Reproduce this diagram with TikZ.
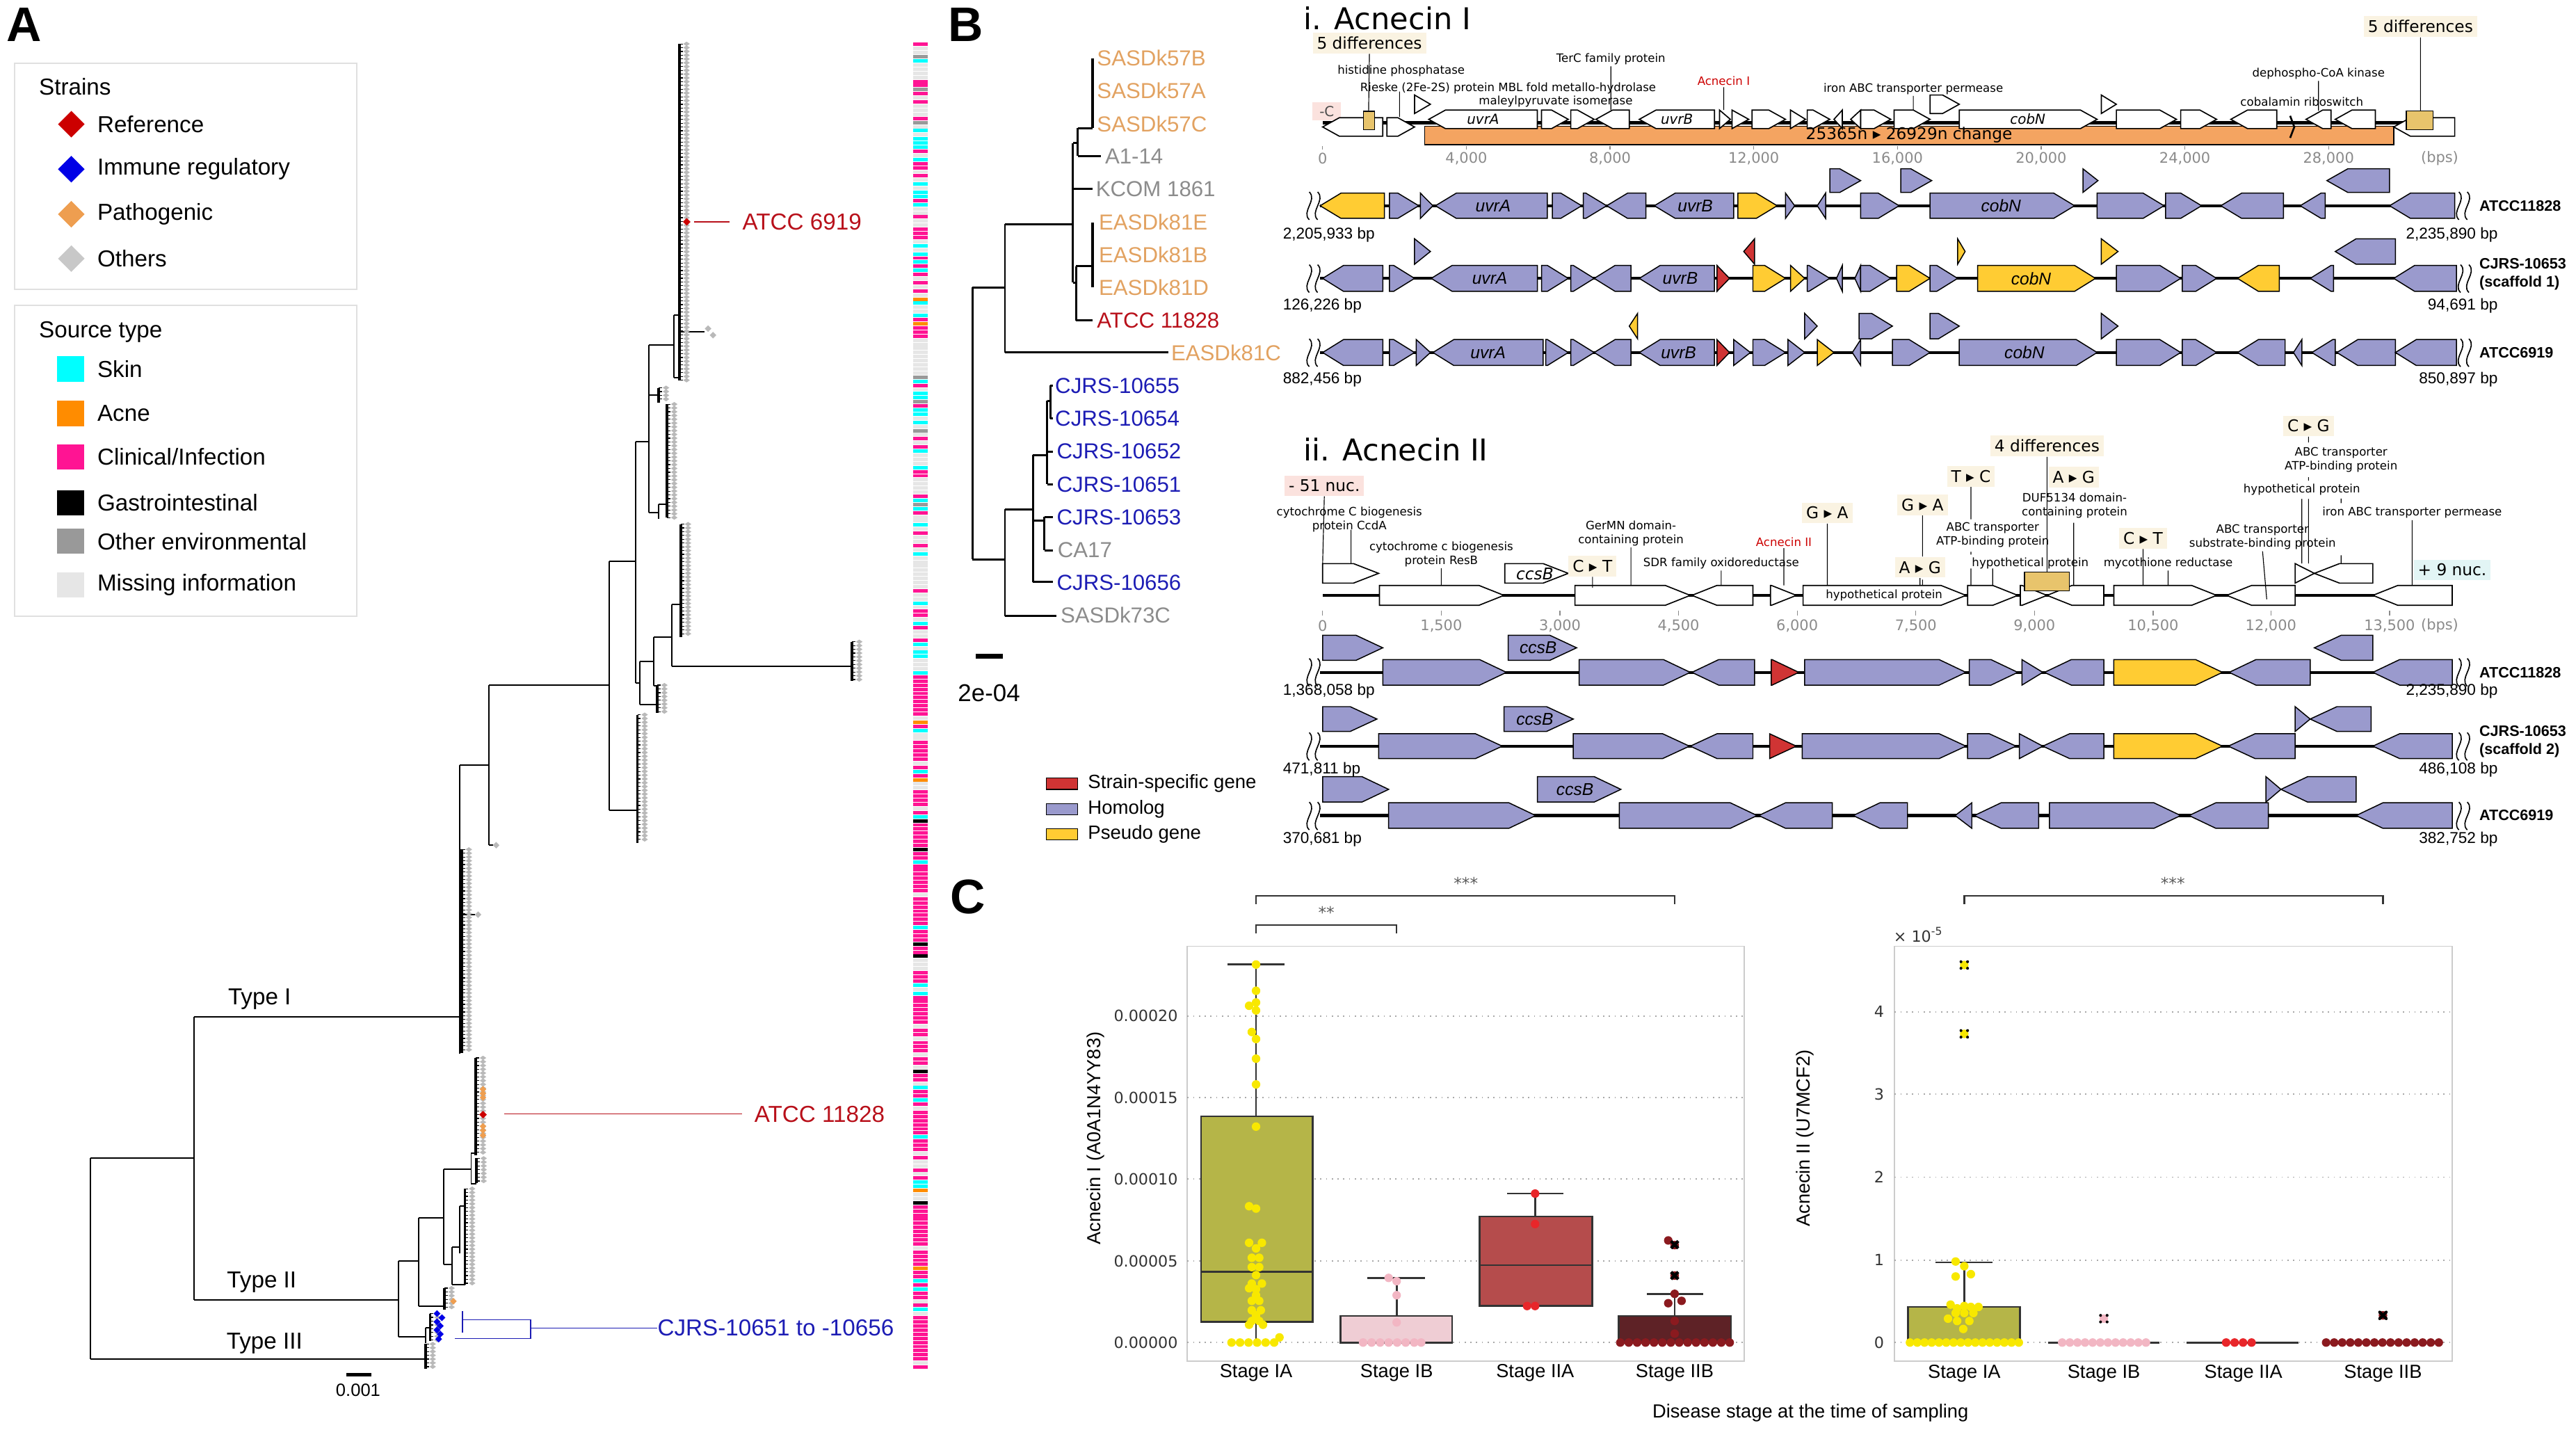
\documentclass[tikz,border=0pt]{standalone}
\usepackage{fontspec}
\setmainfont{Liberation Sans}
\newfontfamily\dv{DejaVu Sans}
\usetikzlibrary{shapes.geometric,positioning}

\definecolor{homc}{HTML}{9A9ACD}
\definecolor{psec}{HTML}{FFCC33}
\definecolor{sspc}{HTML}{D03434}
\definecolor{tanc}{HTML}{E8C46C}
\definecolor{bandc}{HTML}{F4A461}
\definecolor{creamc}{HTML}{FAF3E2}
\definecolor{pinkboxc}{HTML}{FBE2DE}
\definecolor{cyanboxc}{HTML}{E2F5F5}
\definecolor{refdia}{HTML}{CC0000}
\definecolor{immdia}{HTML}{0000E6}
\definecolor{pathdia}{HTML}{EE9E50}
\definecolor{othdia}{HTML}{C8C8C8}
\definecolor{reftxt}{HTML}{B8101A}
\definecolor{immtxt}{HTML}{1C1CB4}
\definecolor{pathtxt}{HTML}{E2A261}
\definecolor{othtxt}{HTML}{8C8C8C}
\definecolor{skinc}{HTML}{00FFFF}
\definecolor{acnec}{HTML}{FF8C00}
\definecolor{clinc}{HTML}{FF1493}
\definecolor{envc}{HTML}{999999}
\definecolor{missc}{HTML}{E6E6E6}
\definecolor{leafc}{HTML}{B9B9B9}
\definecolor{axisgrey}{HTML}{8A8A8A}
\definecolor{iabox}{HTML}{B5B548}
\definecolor{ibbox}{HTML}{EFCDD4}
\definecolor{iiabox}{HTML}{B54C4C}
\definecolor{iibbox}{HTML}{5E2226}
\definecolor{iadot}{HTML}{F8E800}
\definecolor{ibdot}{HTML}{F2B6C3}
\definecolor{iiadot}{HTML}{E8262A}
\definecolor{iibdot}{HTML}{8B1A1F}
\definecolor{framec}{HTML}{CCCCCC}
\definecolor{gridc}{HTML}{A8A8A8}
\definecolor{boxline}{HTML}{333333}

\newcommand{\fsz}[2][1.2]{\fontsize{#2}{\fpeval{#1*#2}}\selectfont}

% genes: \gR / \gL [style]{from}{to}, row set by \gy, \gh, \ghd
\newcommand{\gR}[3][hom]{\pgfmathsetmacro\gtip{min(\ghd,#3-#2)}%
  \filldraw[#1] (#2,{\gy-\gh}) -- ({#3-\gtip},{\gy-\gh}) -- (#3,\gy) -- ({#3-\gtip},{\gy+\gh}) -- (#2,{\gy+\gh}) -- cycle;}
\newcommand{\gL}[3][hom]{\pgfmathsetmacro\gtip{min(\ghd,#3-#2)}%
  \filldraw[#1] (#3,{\gy-\gh}) -- ({#2+\gtip},{\gy-\gh}) -- (#2,\gy) -- ({#2+\gtip},{\gy+\gh}) -- (#3,{\gy+\gh}) -- cycle;}
\newcommand{\brkmark}[3]{%
  \draw[line width=0.5pt] (#1,#2) .. controls ({#1+10},{(#2+#3)/2-25}) and ({#1-10},{(#2+#3)/2+25}) .. (#1,#3);}
% tree leaves
\newcommand{\leafs}[3]{%
  \draw[line width=1.1pt] (#1,#2) -- (#1,#3);
  \pgfmathtruncatemacro\nleaf{(#3-#2)/2.3}
  \foreach \k in {0,...,\nleaf}{
    \pgfmathsetmacro\ly{#2+2.3*\k}
    \draw[line width=0.35pt] (#1,\ly) -- ({#1+2},\ly);
    \fill[leafc] ({#1+4.4},\ly) +(-2,0) -- +(0,-1.35) -- +(2,0) -- +(0,1.35) -- cycle;
  }}
\newcommand{\dmd}[4][2]{\fill[#2] (#3,#4) +(-#1,0) -- +(0,-#1) -- +(#1,0) -- +(0,#1) -- cycle;}

\tikzset{
  treeline/.style={line width=0.6pt},
  btree/.style={line width=0.9pt},
  refgene/.style={fill=white, draw=black, line width=0.5pt},
  hom/.style={fill=homc, draw=black, line width=0.45pt},
  pse/.style={fill=psec, draw=black, line width=0.45pt},
  ssp/.style={fill=sspc, draw=black, line width=0.45pt},
  backbone/.style={line width=1.3pt},
  leader/.style={line width=0.35pt},
  difbox/.style={fill=creamc, inner sep=1.8pt, font={\dv\fsz{7}}},
  glab/.style={font={\dv\fsz{5}}, align=center, inner sep=0.5pt},
  gital/.style={font={\dv\itshape\fsz{6}}, inner sep=0pt},
  cital/.style={font={\itshape\fsz{7.4}}, inner sep=0pt},
  tlab/.style={font={\bfseries\fsz{6.5}}, anchor=west, align=left, inner sep=0pt},
  bplab/.style={font={\fsz{6.8}}, inner sep=0pt},
  axlab/.style={font={\dv\fsz{6.3}}, text=axisgrey, inner sep=0pt},
  panlab/.style={font={\bfseries\fsz{21}}, inner sep=0pt},
  legtxt/.style={font={\fsz{10}}, anchor=west, inner sep=0pt},
  ldiam/.style={diamond, minimum width=0.41cm, minimum height=0.41cm, inner sep=0pt},
  lsq/.style={rectangle, minimum width=0.415cm, minimum height=0.385cm, inner sep=0pt},
  legframe/.style={draw=black!12, line width=0.6pt},
  zg/.style={x=0.0127175cm, y=-0.0035275cm},
  zca/.style={x=0.0081cm, y=-0.007125cm},
  zcb/.style={x=0.0077225cm, y=-0.007125cm},
  ticklab/.style={font={\dv\fsz{6.7}}, text=boxline, inner sep=0pt},
  catlab/.style={font={\fsz{8.2}}, inner sep=0pt},
  sigline/.style={line width=0.7pt, draw=boxline},
  boxst/.style={draw=boxline, line width=0.8pt},
}

\begin{document}
\begin{tikzpicture}[x=0.025cm,y=-0.025cm]
\useasboundingbox (0,0) rectangle (1568,870);

%%%%%%%%%%%% A
\node[panlab] (labA) at (14.5,15) {A};

% legend: strains
\draw[legframe] (9,38.6) rectangle (217,176);
\node[legtxt] (strT) at (23.5,52.7) {Strains};
\foreach \c/\t/\yy [count=\i] in {refdia/Reference/75.6, immdia/Immune regulatory/103, pathdia/Pathogenic/130.4, othdia/Others/157.4}{
  \node[ldiam, fill=\c] (sd\i) at (43.4,\yy) {};
  \node[legtxt] (st\i) at (59,\yy) {\t};
}
% legend: source type
\draw[legframe] (9,186) rectangle (217,375);
\node[legtxt] (srcT) at (23.5,202) {Source type};
\foreach \c/\t/\yy [count=\i] in {skinc/Skin/224.6, acnec/Acne/251.6, clinc/Clinical\slash Infection/278, black/Gastrointestinal/306, envc/Other environmental/329.4, missc/Missing information/356}{
  \node[lsq, fill=\c] (ss\i) at (43.1,\yy) {};
  \node[legtxt] (sx\i) at (59,\yy) {\t};
}

% tree
\draw[treeline] (55,704.7) -- (55,827)
  (55,704.7) -- (118,704.7) (118,619) -- (118,791)
  (118,619) -- (280,619) (118,791) -- (242.7,791) (55,827) -- (259,827)
  (280,465.7) -- (280,641.5) (280,465.7) -- (297.8,465.7)
  (297.8,417) -- (297.8,514.4) (297.8,514.4) -- (300,514.4)
  (280,556.7) -- (289.3,556.7)
  (297.8,417) -- (371,417) (371,341.6) -- (371,493) (371,493) -- (388,493)
  (371,341.6) -- (387,341.6) (387,268.8) -- (387,415.8)
  (387,268.8) -- (395,268.8) (395,210) -- (395,311.9)
  (395,210) -- (410,210) (410,191.6) -- (410,230) (410,191.6) -- (413.5,191.6) (410,230) -- (413.5,230)
  (413.5,202) -- (429,202)
  (395,240.6) -- (401,240.6)
  (395,311.9) -- (400.7,311.9) (400.7,307) -- (400.7,316) (400.7,307) -- (406,307)
  (387,415.8) -- (389.5,415.8) (389.5,402.5) -- (389.5,429)
  (389.5,402.5) -- (398,402.5) (398,387.6) -- (398,417.3)
  (398,387.6) -- (409,387.6) (409,368) -- (409,405.4)
  (409,368) -- (414.4,368) (409,405.4) -- (518.6,405.4)
  (398,417.3) -- (400,417.3) (389.5,429) -- (400,429)
  (242.7,767.5) -- (242.7,813.8) (242.7,813.8) -- (259,813.8) (259,808) -- (259,817.4)
  (259,808) -- (261.8,808)
  (242.7,767.5) -- (254.7,767.5) (254.7,741.3) -- (254.7,794.8)
  (254.7,794.8) -- (270.5,794.8)
  (254.7,741.3) -- (270,741.3) (270,711.6) -- (270,769.8)
  (270,711.6) -- (286.8,711.6) (286.8,702) -- (286.8,720.4)
  (286.8,702) -- (289.6,702) (286.8,720.4) -- (290,720.4)
  (270,769.8) -- (275.2,769.8) (275.2,759) -- (275.2,781.7)
  (275.2,759) -- (280,759) (280,734) -- (280,762.7) (280,734) -- (283,734) (275.2,781.7) -- (283,781.7);
\leafs{281}{517}{641}
\leafs{413.5}{26.7}{231.7}
\leafs{401}{236}{245}
\leafs{406}{246}{315}
\leafs{388}{435}{513}
\leafs{414.4}{319}{387.6}
\leafs{518.6}{390.6}{414.3}
\leafs{400}{417}{434}
\leafs{289.6}{643.9}{703.3}
\leafs{290}{705}{720}
\leafs{283}{723.5}{781.7}
\leafs{270.5}{784}{797}
\leafs{261.8}{799.5}{816}
\leafs{259}{818}{833}
\dmd{leafc}{302}{514.4} \dmd{leafc}{291}{556.7} \dmd{leafc}{431}{200} \dmd{leafc}{434}{204}
\foreach \yy in {663,665.5,668,685.5,688,691}{\dmd{pathdia}{294}{\yy}}
\dmd{pathdia}{276}{792}
\dmd[2.3]{refdia}{294}{678.4}
\foreach \xx/\yy in {266/799.5,269/802,266/804.5,268/807,266/809.5,268/812,267/815}{\dmd[2.1]{immdia}{\xx}{\yy}}
\dmd[2.3]{refdia}{418}{135}

% highlighted strains
\node[anchor=west, font=\fsz{10}, text=reftxt, inner sep=0pt] (a6919) at (451.7,135) {ATCC 6919};
\draw[reftxt, line width=0.5pt] (422.4,135) -- (444.2,135);
\node[anchor=west, font=\fsz{10}, text=reftxt, inner sep=0pt] (a11828) at (459,678) {ATCC 11828};
\draw[reftxt, line width=0.5pt] (307,678) -- (451.8,678);
\node[anchor=west, font=\fsz{10}, text=immtxt, inner sep=0pt] (acjrs) at (400,808.3) {CJRS-10651 to -10656};
\draw[immtxt, line width=0.5pt] (281.6,798) -- (281.6,811) (281.6,803.3) -- (323,803.3) -- (323,814.7) -- (277,814.7)
  (323,808.3) -- (acjrs.west);

% clade labels
\node[font=\fsz{10}, inner sep=0pt] (typeI) at (158,608) {Type I};
\node[font=\fsz{10}, inner sep=0pt] (typeII) at (159.3,780.5) {Type II};
\node[font=\fsz{10}, inner sep=0pt] (typeIII) at (161,817.6) {Type III};

% scale bar
\draw[line width=1.6pt] (211,836.7) -- (226,836.7);
\node[font=\fsz{7.7}, inner sep=0pt] (sbA) at (218,846) {0.001};

% source strip
\pgfmathsetseed{12}
\foreach \i in {0,...,322}{
  \pgfmathtruncatemacro\rr{random(1,100)}
  \pgfmathsetmacro\stripy{26+2.5*\i}
  \ifnum\i<157
    \ifnum\rr<46 \def\stripc{missc}\else\ifnum\rr<75 \def\stripc{clinc}\else\ifnum\rr<92 \def\stripc{skinc}\else\ifnum\rr<95 \def\stripc{black}\else\ifnum\rr<98 \def\stripc{acnec}\else\def\stripc{envc}\fi\fi\fi\fi\fi
  \else
    \ifnum\rr<69 \def\stripc{clinc}\else\ifnum\rr<84 \def\stripc{missc}\else\ifnum\rr<95 \def\stripc{skinc}\else\ifnum\rr<98 \def\stripc{black}\else\def\stripc{acnec}\fi\fi\fi\fi
  \fi
  \fill[\stripc] (555.7,\stripy) rectangle (564.7,\stripy+2.1);
}

%%%%%%%%%%%% B tree
\node[panlab] (labB) at (587.8,15) {B};
\foreach \lx/\lab/\col [count=\i from 0] in {667.5/SASDk57B/pathtxt, 667.5/SASDk57A/pathtxt, 667.5/SASDk57C/pathtxt, 672.4/A1-14/othtxt, 666.8/KCOM 1861/othtxt, 668.6/EASDk81E/pathtxt, 668.6/EASDk81B/pathtxt, 668.6/EASDk81D/pathtxt, 667.5/ATCC 11828/reftxt, 712.6/EASDk81C/pathtxt, 642/CJRS-10655/immtxt, 642/CJRS-10654/immtxt, 643/CJRS-10652/immtxt, 643/CJRS-10651/immtxt, 643/CJRS-10653/immtxt, 643.5/CA17/othtxt, 643/CJRS-10656/immtxt, 645.3/SASDk73C/othtxt}{
  \node[anchor=west, font=\fsz{9.4}, text=\col, inner sep=0pt] (bt\i) at (\lx,{35.4+19.95*\i}) {\lab};
}
\draw[btree] (592,175) -- (592,340.5)
  (592,175) -- (611.7,175) (611.7,136.5) -- (611.7,214.5) (611.7,214.5) -- (711,214.5)
  (611.7,136.5) -- (653,136.5) (653,87) -- (653,172)
  (653,87) -- (656,87) (656,78) -- (656,95) (656,78) -- (665,78) (656,95) -- (670,95)
  (653,115) -- (665,115)
  (653,172) -- (655,172) (655,162) -- (655,195) (655,162) -- (665,162) (655,195) -- (665,195)
  (592,340.5) -- (611.7,340.5) (611.7,310) -- (611.7,375) (611.7,375) -- (643,375)
  (611.7,310) -- (628.7,310) (628.7,277) -- (628.7,354.3) (628.7,354.3) -- (641,354.3)
  (628.7,317) -- (635.7,317) (635.7,314.7) -- (635.7,335) (635.7,314.7) -- (641,314.7) (635.7,335) -- (641,335)
  (628.7,277) -- (637.4,277) (637.4,244) -- (637.4,294.8) (637.4,274.9) -- (641,274.9) (637.4,294.8) -- (641,294.8)
  (637.4,244) -- (639.3,244) (639.3,234.7) -- (639.3,254.7) (639.3,234.7) -- (641,234.7) (639.3,254.7) -- (641,254.7);
\draw[line width=1.4pt] (665,35.4) -- (665,78) (665,135.5) -- (665,175);
\draw[line width=2pt] (594,399.4) -- (610.4,399.4);
\node[font=\fsz{10.5}, inner sep=0pt] (sbB) at (602,422) {2e-04};

%%%%%%%%%%%% B: Acnecin I reference
\begin{scope}[shift={(770.5,0)},zg]
\node[anchor=west, font={\dv\fsz{13}}, inner sep=0pt] (ttlI) at (45,78) {i. Acnecin I};
\draw[backbone] (68,530) -- (1423,530);
\filldraw[fill=bandc, draw=black, line width=0.5pt] (190,545) rectangle (1350,625);
\fill[pinkboxc] (56,440) rectangle (90,520);
\def\gh{40}\def\ghd{20}
\def\gy{548}
\gL[refgene]{68}{140}\gR[refgene]{145}{178}\gL[refgene]{1350}{1423}
\def\gy{515}
\gL[refgene]{195}{325}\gR[refgene]{330}{362}\gR[refgene]{365}{393}\gL[refgene]{395}{435}
\gL[refgene]{447}{537}\gR[refgene]{543}{556}\gR[refgene]{558}{578}\gR[refgene]{582}{622}
\gR[refgene]{628}{646}\gR[refgene]{648}{675}\gL[refgene]{680}{690}\gL[refgene]{700}{712}
\gR[refgene]{712}{748}\gR[refgene]{752}{795}\gR[refgene]{830}{995}\gR[refgene]{1018}{1090}
\gR[refgene]{1095}{1138}\gL[refgene]{1155}{1210}\gL[refgene]{1245}{1275}\gL[refgene]{1280}{1328}
\def\gy{450}
\gR[refgene]{178}{197}\gR[refgene]{795}{830}\gR[refgene]{1000}{1018}
\filldraw[fill=tanc, draw=black, line width=0.4pt] (117,480) rectangle (130,560) (1365,478) rectangle (1397,560);
\draw[line width=0.8pt] (1226,500) -- (1231,548) -- (1226,595);
\node[font={\dv\fsz{6}}, text=black!70, inner sep=0pt] (minusC) at (73,480) {-C};
\node[gital] (uA1) at (260,515) {uvrA};
\node[gital] (uB1) at (492,515) {uvrB};
\node[gital] (cN1) at (912,515) {cobN};
\node[font={\dv\fsz{7}}, inner sep=0pt] (chgI) at (770,583) {25365n ▸ 26929n change};
% labels
\node[difbox] (dif1) at (124,185) {5 differences};
\node[difbox] (dif2) at (1382,115) {5 differences};
\node[glab] (lhis) at (162,307) {histidine phosphatase};
\node[glab] (lrie) at (290,380) {Rieske (2Fe-2S) protein MBL fold metallo-hydrolase};
\node[glab] (lmal) at (347,437) {maleylpyruvate isomerase};
\node[glab] (lter) at (413,255) {TerC family protein};
\node[glab, text=red!80!black] (lacI) at (548,350) {Acnecin I};
\node[glab] (liro) at (775,383) {iron ABC transporter permease};
\node[glab] (ldep) at (1260,318) {dephospho-CoA kinase};
\node[glab] (lcob) at (1240,440) {cobalamin riboswitch};
\draw[leader] (dif1.south) -- (123,480) (160,395) -- (160,505) (lter.south) -- (413,475)
  (lacI.south) -- (548,475) (liro.south) -- (775,475) (ldep.south) -- (1260,478) (dif2.south) -- (1382,478);
% axis
\foreach \tx/\tl in {68/0, 240/{4,000}, 412/{8,000}, 584/{12,000}, 756/{16,000}, 928/{20,000}, 1100/{24,000}, 1272/{28,000}}{
  \draw[axisgrey, line width=0.4pt] (\tx,630) -- (\tx,645);
  \node[axlab] (axI\tx) at (\tx,683) {\tl};
}
\node[axlab] (bpsI) at (1405,683) {(bps)};
\end{scope}

%%%%%%%%%%%% B: Acnecin I comparisons
\begin{scope}[shift={(770.5,101.6)},zg]
\def\ghd{25}
% ATCC11828
\draw[backbone] (65,167.5) -- (1423,167.5);
\def\gy{167.5}\def\gh{54.5}
\gL[pse]{65}{142}\gR{148}{183}\gR{185}{200}\gL{203}{337}\gR{343}{378}\gR{380}{408}\gL{408}{455}
\gL{465}{560}\gR[pse]{565}{612}\gR{622}{633}\gL{660}{670}\gR{712}{758}\gR{795}{968}\gR{995}{1075}
\gR{1077}{1120}\gL{1143}{1218}\gL{1238}{1268}\gL{1345}{1423}
\def\gy{59}\def\gh{51}
\gR{675}{712}\gR{760}{797}\gR{978}{996}\gL{1270}{1345}
\node[cital] (uA2) at (272,167.5) {uvrA};
\node[cital] (uB2) at (514,167.5) {uvrB};
\node[cital] (cN2) at (880,167.5) {cobN};
\brkmark{52}{108}{228}\brkmark{62}{108}{228}\brkmark{1428}{108}{228}\brkmark{1438}{108}{228}
\node[tlab] (trI1) at (1452,167.5) {ATCC11828};
\node[bplab, anchor=west] (bpI1a) at (20,292) {2,205,933 bp};
\node[bplab, anchor=east] (bpI1b) at (1475,292) {2,235,890 bp};
% CJRS-10653 scaffold 1
\draw[backbone] (65,481) -- (1425,481);
\def\gy{481}\def\gh{56}
\gL{68}{140}\gR{148}{178}\gL{198}{325}\gR{330}{362}\gR{365}{393}\gL{393}{437}\gL{447}{537}
\gR[ssp]{540}{555}\gR[pse]{583}{622}\gR[pse]{628}{645}\gR{648}{675}\gL{683}{690}\gL{705}{712}
\gR{712}{748}\gR[pse]{755}{795}\gR{795}{828}\gR[pse]{852}{993}\gR{1018}{1095}\gR{1097}{1138}
\gL[pse]{1163}{1213}\gL{1250}{1278}\gL{1350}{1425}
\def\gy{365}\def\gh{55}
\gR{178}{197}\gL[ssp]{572}{585}\gR[pse]{828}{837}\gR[pse]{1000}{1020}\gL{1280}{1352}
\node[cital] (uA3) at (268,481) {uvrA};
\node[cital] (uB3) at (496,481) {uvrB};
\node[cital] (cN3) at (916,481) {cobN};
\brkmark{52}{422}{542}\brkmark{62}{422}{542}\brkmark{1430}{422}{542}\brkmark{1440}{422}{542}
\node[tlab] (trI2) at (1452,462) {CJRS-10653\\(scaffold 1)};
\node[bplab, anchor=west] (bpI2a) at (20,600) {126,226 bp};
\node[bplab, anchor=east] (bpI2b) at (1475,600) {94,691 bp};
% ATCC6919
\draw[backbone] (65,801) -- (1425,801);
\def\gy{801}\def\gh{56}
\gL{68}{140}\gR{148}{178}\gR{180}{197}\gL{200}{332}\gR{335}{362}\gR{365}{393}\gL{393}{437}
\gL{447}{537}\gR[ssp]{540}{555}\gR{560}{580}\gR{583}{622}\gR{625}{645}\gR[pse]{660}{680}
\gL{702}{712}\gR{750}{795}\gR{830}{995}\gR{1018}{1095}\gR{1097}{1138}\gL{1163}{1220}
\gL{1230}{1240}\gL{1252}{1280}\gL{1282}{1352}\gL{1352}{1425}
\def\gy{687}\def\gh{55}
\gL[pse]{435}{445}\gR{645}{660}\gR{710}{750}\gR{795}{830}\gR{1000}{1020}
\node[cital] (uA4) at (266,801) {uvrA};
\node[cital] (uB4) at (494,801) {uvrB};
\node[cital] (cN4) at (908,801) {cobN};
\brkmark{52}{742}{862}\brkmark{62}{742}{862}\brkmark{1430}{742}{862}\brkmark{1440}{742}{862}
\node[tlab] (trI3) at (1452,801) {ATCC6919};
\node[bplab, anchor=west] (bpI3a) at (20,917) {882,456 bp};
\node[bplab, anchor=east] (bpI3b) at (1475,917) {850,897 bp};
\end{scope}

%%%%%%%%%%%% B: Acnecin II reference
\begin{scope}[shift={(770.5,245.6)},zg]
\node[anchor=west, font={\dv\fsz{13}}, inner sep=0pt] (ttlII) at (45,198) {ii. Acnecin II};
\draw[backbone] (68,828) -- (1420,828);
\def\ghd{30}\def\gy{828}\def\gh{43}
\gR[refgene]{136}{285}\gR[refgene]{370}{508}\gL[refgene]{510}{583}\gR[refgene]{604}{635}
\gR[refgene]{643}{838}\gR[refgene]{840}{900}\gR[refgene]{903}{935}\gL[refgene]{935}{1003}
\gR[refgene]{1015}{1138}\gL[refgene]{1150}{1232}\gL[refgene]{1325}{1420}
\def\gy{733}\def\gh{42}
\gR[refgene]{68}{135}\gR[refgene]{286}{362}\gR[refgene]{1232}{1255}\gL[refgene]{1255}{1325}
\filldraw[fill=tanc, draw=black, line width=0.4pt] (908,728) rectangle (962,808);
\node[gital, font={\dv\itshape\fsz{7}}] (ccs0) at (322,737) {ccsB};
\node[glab] (lhyp1) at (740,828) {hypothetical protein};
% labels
\node[difbox, fill=pinkboxc] (nuc51) at (70,355) {- 51 nuc.};
\node[difbox, fill=cyanboxc] (nuc9) at (1420,718) {+ 9 nuc.};
\node[difbox] (dif4) at (935,183) {4 differences};
\node[difbox] (sCT1) at (391,702) {C ▸ T};
\node[difbox] (sGA1) at (672,472) {G ▸ A};
\node[difbox] (sGA2) at (786,437) {G ▸ A};
\node[difbox] (sAG1) at (783,707) {A ▸ G};
\node[difbox] (sTC1) at (844,314) {T ▸ C};
\node[difbox] (sAG2) at (967,317) {A ▸ G};
\node[difbox] (sCT2) at (1050,582) {C ▸ T};
\node[difbox] (sCG1) at (1248,97) {C ▸ G};
\node[glab] (lccdA) at (100,500) {cytochrome C biogenesis\\protein CcdA};
\node[glab] (lresB) at (210,650) {cytochrome c biogenesis\\protein ResB};
\node[glab] (lger) at (437,560) {GerMN domain-\\containing protein};
\node[glab] (lsdr) at (545,690) {SDR family oxidoreductase};
\node[glab, text=red!80!black] (lacII) at (620,598) {Acnecin II};
\node[glab] (labc1) at (870,568) {ABC transporter\\ATP-binding protein};
\node[glab] (lhyp2) at (915,690) {hypothetical protein};
\node[glab] (lduf) at (968,440) {DUF5134 domain-\\containing protein};
\node[glab] (lmyc) at (1080,690) {mycothione reductase};
\node[glab] (labc2) at (1193,577) {ABC transporter\\substrate-binding protein};
\node[glab] (labc3) at (1287,242) {ABC transporter\\ATP-binding protein};
\node[glab] (lhyp3) at (1240,370) {hypothetical protein};
\node[glab] (liro2) at (1372,472) {iron ABC transporter permease};
\draw[leader] (nuc51.south) -- (68,690) (102,545) -- (102,690) (lresB.south) -- (210,785)
  (sCT1.south) -- (391,795) (lger.south) -- (437,785) (lsdr.south) -- (545,785)
  (lacII.south) -- (620,785) (sGA1.south) -- (672,785) (sGA2.south) -- (786,660) (sAG1.south) -- (783,785) (786,760) -- (786,785)
  (sTC1.south) -- (844,500) (844,640) -- (844,652) (844,712) -- (844,785) (870,712) -- (870,785)
  (dif4.south) -- (935,728) (967,515) -- (967,785) (sCT2.south) -- (1050,785)
  (lmyc.south) -- (1080,785) (labc2.south) -- (1198,845) (sCG1.south) -- (1248,168)
  (1248,318) -- (1248,332) (1240,412) -- (1240,690) (1248,412) -- (1248,690)
  (1287,410) -- (1287,430) (1287,655) -- (1287,690) (liro2.south) -- (1372,785);
% axis
\foreach \tx/\tl in {68/0, 210/{1,500}, 352/{3,000}, 494/{4,500}, 636/{6,000}, 778/{7,500}, 920/{9,000}, 1062/{10,500}, 1203/{12,000}, 1345/{13,500}}{
  \draw[axisgrey, line width=0.4pt] (\tx,895) -- (\tx,915);
  \node[axlab] (axII\tx) at (\tx,960) {\tl};
}
\node[axlab] (bpsII) at (1405,960) {(bps)};
\end{scope}

%%%%%%%%%%%% B: Acnecin II comparisons
\begin{scope}[shift={(770.5,406.4)},zg]
\def\ghd{32}
% ATCC11828
\draw[backbone] (65,20) -- (1420,20);
\def\gy{20}\def\gh{55}
\gR{140}{288}\gR{375}{508}\gL{510}{585}\gR[ssp]{605}{638}\gR{645}{838}\gR{842}{900}\gR{905}{930}
\gL{932}{1003}\gR[pse]{1015}{1145}\gL{1153}{1250}\gL{1325}{1420}
\def\gy{-86}\def\gh{54}
\gR{68}{140}\gR{290}{372}\gL{1255}{1325}
\node[cital] (cc1) at (326,-86) {ccsB};
\brkmark{52}{-40}{80}\brkmark{62}{-40}{80}\brkmark{1428}{-40}{80}\brkmark{1438}{-40}{80}
\node[tlab] (trII1) at (1452,20) {ATCC11828};
\node[bplab, anchor=west] (bpII1a) at (20,100) {1,368,058 bp};
\node[bplab, anchor=east] (bpII1b) at (1475,100) {2,235,890 bp};
% CJRS-10653 scaffold 2
\draw[backbone] (65,338.5) -- (1420,338.5);
\def\gy{338.5}\def\gh{53.5}
\gR{135}{283}\gR{368}{507}\gL{508}{583}\gR[ssp]{603}{635}\gR{642}{838}\gR{840}{898}\gR{902}{930}
\gL{930}{1003}\gR[pse]{1015}{1145}\gL{1152}{1232}\gL{1325}{1420}
\def\gy{221.5}
\gR{68}{133}\gR{285}{368}\gR{1232}{1250}\gL{1250}{1323}
\node[cital] (cc2) at (322,221.5) {ccsB};
\brkmark{52}{280}{400}\brkmark{62}{280}{400}\brkmark{1428}{280}{400}\brkmark{1438}{280}{400}
\node[tlab] (trII2) at (1452,320) {CJRS-10653\\(scaffold 2)};
\node[bplab, anchor=west] (bpII2a) at (20,440) {471,811 bp};
\node[bplab, anchor=east] (bpII2b) at (1475,440) {486,108 bp};
% ATCC6919
\draw[backbone] (65,638) -- (1420,638);
\def\gy{638}\def\gh{55}
\gR{147}{323}\gR{423}{588}\gL{590}{678}\gL{703}{768}\gL{825}{845}\gL{848}{925}\gR{938}{1095}
\gL{1105}{1200}\gL{1305}{1420}
\def\gy{525}
\gR{68}{147}\gR{325}{425}\gR{1197}{1215}\gL{1215}{1305}
\node[cital] (cc3) at (370,525) {ccsB};
\brkmark{52}{580}{700}\brkmark{62}{580}{700}\brkmark{1428}{580}{700}\brkmark{1438}{580}{700}
\node[tlab] (trII3) at (1452,638) {ATCC6919};
\node[bplab, anchor=west] (bpII3a) at (20,740) {370,681 bp};
\node[bplab, anchor=east] (bpII3b) at (1475,740) {382,752 bp};
\end{scope}

% gene legend
\foreach \c/\t/\yy [count=\i] in {sspc/Strain-specific gene/477, homc/Homolog/492.5, psec/Pseudo gene/507.8}{
  \node[rectangle, draw=black, line width=0.4pt, fill=\c, minimum width=0.475cm, minimum height=0.17cm, inner sep=0pt] (gk\i) at (646.5,\yy) {};
  \node[anchor=west, font=\fsz{8.3}, inner sep=0pt] (gt\i) at (662,\yy) {\t};
}

%%%%%%%%%%%% C
\node[panlab] (labC) at (589,546) {C};

% left plot
\begin{scope}[shift={(584.3,423.4)},zca]
\draw[framec, line width=0.6pt] (427,535) rectangle (1473,1420);
\foreach \tickv/\tickl in {1381/0.00000, 1207/0.00005, 1032/0.00010, 858/0.00015, 684/0.00020}{
  \draw[gridc, dotted, line width=0.5pt] (427,\tickv) -- (1473,\tickv);
  \node[ticklab, anchor=east] (lyt\tickv) at (410,\tickv) {\tickl};
}
\node[catlab, rotate=90] (lylab) at (255,945) {Acnecin I (A0A1N4YY83)};
\foreach \cx/\cl [count=\i] in {556/Stage IA, 820/Stage IB, 1080/Stage IIA, 1342/Stage IIB}{
  \node[catlab] (lcat\i) at (\cx,1446) {\cl};
}
% boxes
\draw[boxst] (556,898) -- (556,574) (503,574) -- (610,574) (556,1337) -- (556,1381);
\filldraw[boxst, fill=iabox] (453,898) rectangle (662,1337);
\draw[boxst] (453,1230) -- (662,1230);
\draw[boxst] (820,1324) -- (820,1243) (765,1243) -- (873,1243);
\filldraw[boxst, fill=ibbox] (715,1324) rectangle (924,1381);
\draw[boxst] (1080,1112) -- (1080,1063) (1028,1063) -- (1133,1063);
\filldraw[boxst, fill=iiabox] (976,1112) rectangle (1187,1303);
\draw[boxst] (976,1216) -- (1187,1216);
\draw[boxst] (1342,1324) -- (1342,1277) (1290,1277) -- (1395,1277);
\filldraw[boxst, fill=iibbox] (1237,1324) rectangle (1448,1381);
% points
\foreach \px/\py in {556/574,556/630,543/662,556/655,556/672,548/718,556/733,556/775,556/830,556/920,543/1090,556/1095,543/1168,567/1168,556/1180,548/1200,562/1200,548/1220,562/1220,556/1237,548/1255,567/1255,543/1265,556/1267,556/1280,548/1292,562/1292,548/1312,565/1312,556/1323,548/1335,562/1335,543/1343,569/1343,600/1370,510/1381,526/1381,542/1381,558/1381,574/1381,590/1381}{
  \fill[iadot] (\px,\py) circle[radius=0.065cm];}
\foreach \px/\py in {805/1243,820/1250,820/1280,820/1338,757/1381,773/1381,789/1381,805/1381,821/1381,837/1381,853/1381,866/1381}{
  \fill[ibdot] (\px,\py) circle[radius=0.065cm];}
\foreach \px/\py in {1080/1063,1080/1128,1065/1303,1080/1303}{
  \fill[iiadot] (\px,\py) circle[radius=0.065cm];}
\foreach \px/\py in {1330/1163,1342/1173,1342/1238,1342/1277,1330/1297,1355/1292,1342/1335,1342/1362}{
  \fill[iibdot] (\px,\py) circle[radius=0.065cm];}
\foreach \k in {0,...,13}{\fill[iibdot] ({1240+15.8*\k},1381) circle[radius=0.065cm];}
\foreach \px/\py in {1342/1172,1342/1238}{
  \draw[line width=1.3pt] (\px,\py) ++(-0.055cm,-0.055cm) -- ++(0.11cm,0.11cm) ++(0,-0.11cm) -- ++(-0.11cm,0.11cm);}
% significance
\draw[sigline] (556,507) -- (556,490) -- (820,490) -- (820,507);
\node[font={\dv\fsz{7}}, text=boxline!80, inner sep=0pt] (sigL1) at (688,463) {**};
\draw[sigline] (556,445) -- (556,427) -- (1342,427) -- (1342,445);
\node[font={\dv\fsz{7}}, text=boxline!80, inner sep=0pt] (sigL2) at (950,401) {***};
\end{scope}

% right plot
\begin{scope}[shift={(1083.8,423.4)},zcb]
\draw[framec, line width=0.6pt] (225,535) rectangle (1323,1420);
\foreach \tickv/\tickl in {1381/0, 1205/1, 1028/2, 851/3, 675/4}{
  \draw[gridc, dotted, line width=0.5pt] (225,\tickv) -- (1323,\tickv);
  \node[ticklab, anchor=east] (ryt\tickv) at (205,\tickv) {\tickl};
}
\node[ticklab, anchor=west] (rexp) at (222,510) {× 10\textsuperscript{-5}};
\node[catlab, rotate=90] (rylab) at (48,945) {Acnecin II (U7MCF2)};
\foreach \cx/\cl [count=\i] in {362/Stage IA, 637/Stage IB, 912/Stage IIA, 1187/Stage IIB}{
  \node[catlab] (rcat\i) at (\cx,1447) {\cl};
}
\draw[boxst] (362,1305) -- (362,1210) (305,1210) -- (417,1210);
\filldraw[boxst, fill=iabox] (251,1305) rectangle (472,1381);
\draw[boxst] (527,1381) -- (747,1381) (800,1381) -- (1020,1381) (1072,1381) -- (1298,1381);
\foreach \px/\py in {345/1208,362/1218,345/1240,375/1235,335/1300,348/1308,362/1303,375/1305,390/1305,345/1318,362/1318,380/1318,330/1330,348/1335,372/1335,360/1352,362/575,362/722}{
  \fill[iadot] (\px,\py) circle[radius=0.065cm];}
\foreach \k in {0,...,15}{\fill[iadot] ({255+14.3*\k},1381) circle[radius=0.065cm];}
\foreach \k in {0,...,11}{\fill[ibdot] ({555+15*\k},1381) circle[radius=0.065cm];}
\fill[ibdot] (637,1330) circle[radius=0.065cm];
\foreach \k in {0,...,3}{\fill[iiadot] ({878+16.7*\k},1381) circle[radius=0.065cm];}
\foreach \k in {0,...,14}{\fill[iibdot] ({1075+15.86*\k},1381) circle[radius=0.065cm];}
\fill[iibdot] (1187,1323) circle[radius=0.065cm];
\foreach \px/\py in {362/575,362/722,637/1330,1187/1323}{
  \foreach \dx/\dy in {-1/-1,1/-1,-1/1,1/1}{
    \fill (\px,\py) ++({\dx*0.05cm},{\dy*0.05cm}) circle[radius=0.022cm];}}
\draw[line width=1.3pt] (1187,1323) ++(-0.05cm,-0.05cm) -- ++(0.1cm,0.1cm) ++(0,-0.1cm) -- ++(-0.1cm,0.1cm);
\draw[sigline] (362,445) -- (362,427) -- (1187,427) -- (1187,445);
\node[font={\dv\fsz{7}}, text=boxline!80, inner sep=0pt] (sigR) at (773,401) {***};
\end{scope}

\node[font=\fsz{8.2}, inner sep=0pt] (xtitle) at (1102,860) {Disease stage at the time of sampling};

\end{tikzpicture}
\end{document}
